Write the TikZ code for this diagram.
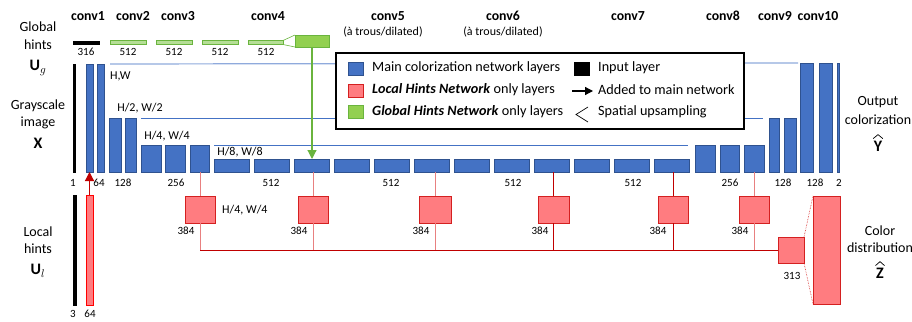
\RequirePackage{fix-cm}
\documentclass[tikz,border=0pt]{standalone}
\usepackage{fontspec}
\setmainfont{Carlito}
\usetikzlibrary{arrows.meta}
\definecolor{mblue}{HTML}{4472C4}
\definecolor{mborder}{HTML}{2F528F}
\definecolor{lblue}{HTML}{8FAADC}
\definecolor{rfill}{HTML}{FF7C80}
\definecolor{rborder}{HTML}{D42020}
\definecolor{rdark}{HTML}{C00000}
\definecolor{rlight}{HTML}{E88080}
\definecolor{gfill}{HTML}{92D050}
\definecolor{gborder}{HTML}{6AB43E}
\definecolor{gbarfill}{HTML}{B5DE96}
\newcommand\mkbar[6]{\node[#1, minimum width={((#4)-(#3))*1pt}, minimum height={((#6)-(#5))*1pt}] (#2) at ({((#3)+(#4))/2},{((#5)+(#6))/2}) {};}
\begin{document}
\begin{tikzpicture}[x=1pt,y=-1pt,
  shp/.style={inner sep=0pt, outer sep=0pt, line width=0.8pt},
  mbar/.style={shp, fill=mblue, draw=mborder},
  inbar/.style={shp, fill=black, draw=black},
  rbox/.style={shp, fill=rfill, draw=rborder},
  rbar/.style={shp, fill=rfill, draw=red},
  gbar/.style={shp, fill=gbarfill, draw=gborder},
  gbox/.style={shp, fill=gfill, draw=gborder},
  hdr/.style={font=\fontsize{13.8}{16}\selectfont\bfseries, inner sep=0pt},
  sub/.style={font=\fontsize{12}{14}\selectfont, inner sep=0pt},
  num/.style={font=\fontsize{11}{13}\selectfont, inner sep=0pt},
  dimlbl/.style={font=\fontsize{12}{14}\selectfont, inner sep=0pt},
  side/.style={font=\fontsize{14}{16}\selectfont, inner sep=0pt},
  sym/.style={font=\fontsize{16}{18}\selectfont, inner sep=0pt},
  hatline/.style={line width=0.7pt, line join=miter},
  legtxt/.style={font=\fontsize{14.2}{16}\selectfont, inner sep=0pt, anchor=west},
  legsq/.style={shp, minimum width=15pt, minimum height=13pt},
  bline/.style={draw=mblue, line width=1pt},
  tline/.style={draw=lblue, line width=1.2pt},
  rdk/.style={draw=rdark, line width=1pt},
  rlt/.style={draw=rlight, line width=1pt}
]
\useasboundingbox (0,0) rectangle (912,321);

% ---------- headers ----------
\node[hdr] (h1) at (88,16) {conv1};
\node[hdr] (h2) at (133,16) {conv2};
\node[hdr] (h3) at (178,16) {conv3};
\node[hdr] (h4) at (268,16) {conv4};
\node[hdr] (h5) at (388,16) {conv5};
\node[sub] (s5) at (383,32) {(à trous/dilated)};
\node[hdr] (h6) at (503,16) {conv6};
\node[sub] (s6) at (503,32) {(à trous/dilated)};
\node[hdr] (h7) at (628,16) {conv7};
\node[hdr] (h8) at (723,16) {conv8};
\node[hdr] (h9) at (775,16) {conv9};
\node[hdr] (h10) at (818,16) {conv10};

% ---------- side labels ----------
\node[side] (gl1) at (38,27) {Global};
\node[side] (gl2) at (38,45) {hints};
\node[sym] (gl3) at (38,68) {$\mathbf{U}_{g}$};
\node[side] (gr1) at (38,106) {Grayscale};
\node[side] (gr2) at (38,123) {image};
\node[sym] (gr3) at (38,143) {$\mathbf{X}$};
\node[side] (lo1) at (38,232) {Local};
\node[side] (lo2) at (38,249) {hints};
\node[sym] (lo3) at (38,271) {$\mathbf{U}_{l}$};
\node[side] (ou1) at (878,102) {Output};
\node[side] (ou2) at (878,120) {colorization};
\node[sym] (ou3) at (878,146) {$\mathbf{Y}$};
\draw[hatline] ([xshift=-0.5pt,yshift=2pt]ou3.north west) -- ([yshift=6pt]ou3.north) -- ([xshift=0.5pt,yshift=2pt]ou3.north east);
\node[side] (cd1) at (880,231) {Color};
\node[side] (cd2) at (880,248) {distribution};
\node[sym] (cd3) at (880,273) {$\mathbf{Z}$};
\draw[hatline] ([xshift=-0.5pt,yshift=2pt]cd3.north west) -- ([yshift=6pt]cd3.north) -- ([xshift=0.5pt,yshift=2pt]cd3.north east);

% ---------- global hints row ----------
\mkbar{inbar}{gin}{73}{99}{41.5}{44}
\mkbar{gbar}{g1}{110}{146}{40.5}{44.5}
\mkbar{gbar}{g2}{156}{192}{40.5}{44.5}
\mkbar{gbar}{g3}{202}{238}{40.5}{44.5}
\mkbar{gbar}{g4}{248}{283}{40.5}{44.5}
\mkbar{gbox}{gb}{295}{329}{35}{47}
\draw[draw=gborder, line width=0.6pt] (g4.north east) -- (gb.north west);
\draw[draw=gborder, line width=0.6pt] (g4.south east) -- (gb.south west);
\node[num] (n316) at (86,52) {316};
\node[num] (ng1) at (128,52) {512};
\node[num] (ng2) at (174,52) {512};
\node[num] (ng3) at (220,52) {512};
\node[num] (ng4) at (266,52) {512};

% ---------- main network ----------
\mkbar{inbar}{in1}{73}{75.5}{64}{172}
\mkbar{mbar}{c1a}{86}{93}{64}{172}
\mkbar{mbar}{c1b}{97}{104}{64}{172}
\mkbar{mbar}{c2a}{109}{121}{118}{172}
\mkbar{mbar}{c2b}{125}{136}{118}{172}
\mkbar{mbar}{c3a}{141}{161}{145}{172}
\mkbar{mbar}{c3b}{165}{185}{145}{172}
\mkbar{mbar}{c3c}{190}{209}{145}{172}
\foreach \k in {0,...,11}{
  \mkbar{mbar}{m\k}{214+40*\k}{249+40*\k}{159}{172}
}
\mkbar{mbar}{c8a}{695}{715}{145}{172}
\mkbar{mbar}{c8b}{720}{739}{145}{172}
\mkbar{mbar}{c8c}{744}{764}{145}{172}
\mkbar{mbar}{c9a}{769}{779}{118}{172}
\mkbar{mbar}{c9b}{784}{796}{118}{172}
\mkbar{mbar}{c10a}{800}{813}{63}{172}
\mkbar{mbar}{c10b}{819}{832}{63}{172}
\mkbar{mbar}{c10c}{837}{839}{63}{172}

% resolution lines
\draw[tline] ([xshift=6pt]c1b.north east) -- ([xshift=-2pt]c10a.north west);
\draw[bline] ([xshift=5pt]c2b.north east) -- ([xshift=-6pt]c9a.north west);
\draw[bline] ([xshift=5pt]c3c.north east) -- ([xshift=-7pt]c8a.north west);

\node[dimlbl, anchor=west] (dHW) at (110,76) {H,W};
\node[dimlbl] (dH2) at (140,108) {H/2, W/2};
\node[dimlbl] (dH4) at (167,136) {H/4, W/4};
\node[dimlbl] (dH8) at (240,152) {H/8, W/8};

\node[num] (n1) at (73,183) {1};
\node[num] (n64) at (99,183) {64};
\node[num] (n128a) at (123,183) {128};
\node[num] (n256a) at (176,183) {256};
\node[num] (n512a) at (271,183) {512};
\node[num] (n512b) at (391,183) {512};
\node[num] (n512c) at (513,183) {512};
\node[num] (n512d) at (633,183) {512};
\node[num] (n256b) at (730,183) {256};
\node[num] (n128b) at (783,183) {128};
\node[num] (n128c) at (815,183) {128};
\node[num] (n2) at (839,183) {2};

% global hints arrow
\draw[draw=gborder, line width=1.2pt, -{Triangle[length=9pt, width=9pt]}] (gb.south) -- (gb.south |- m2.north);

% ---------- local hints network ----------
\mkbar{inbar}{lin}{73}{76}{195}{305}
\mkbar{rbar}{lred}{86}{93}{195}{305}
\draw[draw=rdark, line width=1.2pt, -{Triangle[length=9pt, width=9pt]}] (lred.north) -- (lred.north |- c1a.south);
\node[num] (n3) at (73,314) {3};
\node[num] (n64b) at (90,314) {64};

\mkbar{rbox}{r1}{185}{215}{196}{223}
\mkbar{rbox}{r2}{298}{328}{196}{223}
\mkbar{rbox}{r3}{419}{451}{196}{223}
\mkbar{rbox}{r4}{538}{569}{196}{223}
\mkbar{rbox}{r5}{658}{688}{196}{223}
\mkbar{rbox}{r6}{739}{769}{196}{223}
\mkbar{rbox}{r7}{778}{804}{237}{263}
\mkbar{rbox}{r8}{813}{840}{196}{304}

\draw[rlt] (r1.north) -- (r1.north |- c3c.south);
\draw[rlt] (r2.north) -- (r2.north |- m2.south);
\draw[rlt] (r3.north) -- (r3.north |- m5.south);
\draw[rdk] (r4.north) -- (r4.north |- m8.south);
\draw[rdk] (r5.north) -- (r5.north |- m11.south);
\draw[rlt] (r6.north) -- (r6.north |- c8c.south);

\draw[rlt] (r1.south) -- (r1.south |- r7.west);
\draw[rlt] (r2.south) -- (r2.south |- r7.west);
\draw[rlt] (r3.south) -- (r3.south |- r7.west);
\draw[rdk] (r4.south) -- (r4.south |- r7.west);
\draw[rdk] (r5.south) -- (r5.south |- r7.west);
\draw[rlt] (r6.south) -- (r6.south |- r7.west);
\draw[rdk] (r1.south |- r7.west) -- (r7.west);

\draw[draw=rborder, line width=0.6pt, densely dotted] (r7.north east) -- (r8.north west);
\draw[draw=rborder, line width=0.6pt, densely dotted] (r7.south east) -- (r8.south west);

\node[dimlbl, anchor=west] (dH4b) at (222,210) {H/4, W/4};
\node[num] (l1) at (186,231) {384};
\node[num] (l2) at (299,231) {384};
\node[num] (l3) at (421,231) {384};
\node[num] (l4) at (540,231) {384};
\node[num] (l5) at (658,231) {384};
\node[num] (l6) at (740,231) {384};
\node[num] (l7) at (792,276) {313};

% ---------- legend ----------
\node[draw=black, fill=white, line width=1.3pt, inner sep=0pt, outer sep=0pt,
      minimum width=408pt, minimum height=76pt] (leg) at (540,91) {};
\node[legsq, fill=mblue, draw=mborder] (lq1) at (355.5,68.5) {};
\node[legsq, fill=rfill, draw=rborder] (lq2) at (355.5,90.5) {};
\node[legsq, fill=gfill, draw=gborder] (lq3) at (355.5,111.5) {};
\node[legtxt] (lt1) at (372,68) {Main colorization network layers};
\node[legtxt] (lt2) at (372,90) {\textbf{\textit{Local Hints Network}} only layers};
\node[legtxt] (lt3) at (372,112) {\textbf{\textit{Global Hints Network}} only layers};
\node[legsq, fill=black, draw=black] (lq4) at (582,68.5) {};
\coordinate (la1) at (572,91);
\coordinate (la2) at (593,91);
\draw[line width=1.2pt, -{Triangle[length=8pt, width=8pt]}] (la1) -- (la2);
\coordinate (lu1) at (588,107);
\coordinate (lu2) at (576,114.5);
\coordinate (lu3) at (588,122);
\draw[line width=0.7pt] (lu1) -- (lu2) -- (lu3);
\node[legtxt] (lt4) at (598,68) {Input layer};
\node[legtxt] (lt5) at (598,90) {Added to main network};
\node[legtxt] (lt6) at (598,112) {Spatial upsampling};
\end{tikzpicture}
\end{document}
